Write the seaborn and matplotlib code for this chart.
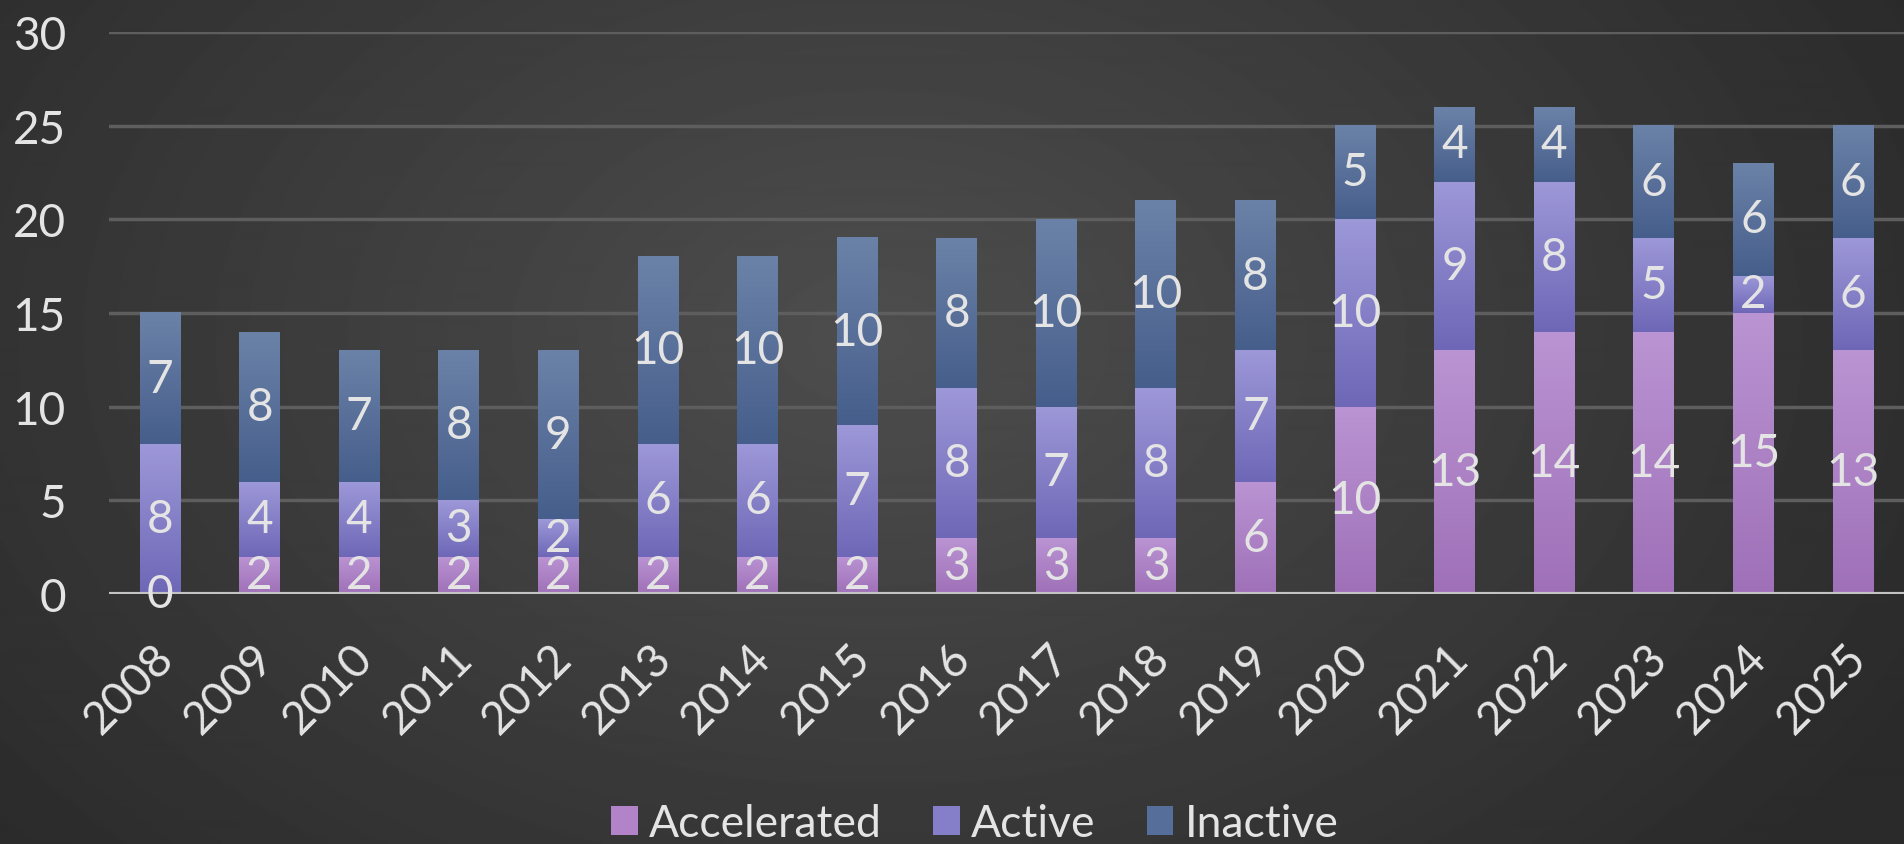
import numpy as np
import pandas as pd
import matplotlib
matplotlib.use("Agg")
import matplotlib.pyplot as plt
import seaborn as sns
from matplotlib.patches import Patch
from matplotlib.colors import LinearSegmentedColormap
from matplotlib.transforms import ScaledTranslation

# ---------------- data ----------------
years = [str(y) for y in range(2008, 2026)]
accelerated = [0, 2, 2, 2, 2, 2, 2, 2, 3, 3, 3, 6, 10, 13, 14, 14, 15, 13]
active = [8, 4, 4, 3, 2, 6, 6, 7, 8, 7, 8, 7, 10, 9, 8, 5, 2, 6]
inactive = [7, 8, 7, 8, 9, 10, 10, 10, 8, 10, 10, 8, 5, 4, 4, 6, 6, 6]
series_names = ["Accelerated", "Active", "Inactive"]
y_ticks = [0, 5, 10, 15, 20, 25, 30]

# ---------------- styling ----------------
grad_colors = {
    "Accelerated": ("#9f70b8", "#ba94d3"),
    "Active": ("#6e67b7", "#9d98d8"),
    "Inactive": ("#465e8b", "#6b82a8"),
}
legend_colors = {"Accelerated": "#b283c8", "Active": "#857fc9", "Inactive": "#566f9a"}
text_color = "#e4e4e4"

sns.set_theme(style="dark")
plt.rcParams['font.family'] = ['Lato', 'DejaVu Sans']

W, H = 1904, 845
fig = plt.figure(figsize=(W / 100, H / 100), dpi=100)

# background radial gradient
bg = fig.add_axes([0, 0, 1, 1], zorder=-10)
yy, xx = np.mgrid[0:H:2, 0:W:2]
cx, cy = 0.46 * W, 0.40 * H
r = np.sqrt(((xx - cx) / (0.62 * W)) ** 2 + ((yy - cy) / (0.95 * H)) ** 2)
v = 0.305 - 0.14 * np.clip(r, 0, 1)
bg.imshow(v, cmap="gray", vmin=0, vmax=1, aspect="auto", extent=(0, 1, 0, 1),
          interpolation="bilinear")
bg.axis("off")

ax = fig.add_axes([109 / W, 1 - 595 / H, 1 - 109 / W, (595 - 33) / H])
ax.set_facecolor("none")

df = pd.DataFrame({"Year": years, "Accelerated": accelerated,
                   "Active": active, "Inactive": inactive})

bottoms = np.zeros(len(years))
grad = np.linspace(0, 1, 256).reshape(-1, 1)
for name in series_names:
    n_before = len(ax.patches)
    sns.barplot(data=df, x="Year", y=name, bottom=bottoms.copy(), width=0.41,
                color=legend_colors[name], saturation=1, errorbar=None, ax=ax,
                zorder=2, linewidth=0)
    new = ax.patches[n_before:]
    cmap = LinearSegmentedColormap.from_list(name, grad_colors[name])
    for p, val in zip(new, df[name].values):
        x0, y0 = p.get_x(), p.get_y()
        w, h = p.get_width(), p.get_height()
        if h > 0:
            ax.imshow(grad, cmap=cmap, extent=(x0, x0 + w, y0, y0 + h),
                      origin="lower", aspect="auto", zorder=2.5,
                      interpolation="bilinear")
        ax.text(x0 + w / 2, y0 + h / 2, str(val), ha="center", va="center",
                fontsize=33, color=text_color, zorder=6, clip_on=False)
    bottoms += df[name].values

ax.set_xlim(-0.512, 17.512)
ax.set_ylim(0, 30)
ax.set_aspect("auto")

for s in ax.spines.values():
    s.set_visible(False)
ax.yaxis.grid(True, color="#5e5e5e", lw=2.5)
ax.xaxis.grid(False)
ax.set_axisbelow(True)
ax.axhline(0, color="#c4c4c4", lw=3, zorder=4)

ax.set_yticks(y_ticks)
ax.set_yticklabels([str(t) for t in y_ticks])
ax.tick_params(axis="y", length=0, pad=31, labelsize=33, labelcolor=text_color)
ax.set_xticks(range(len(years)))
ax.set_xticklabels(years, rotation=45, ha="right", va="top", rotation_mode="anchor")
ax.tick_params(axis="x", length=0, pad=30, labelsize=33, labelcolor=text_color)
offset = ScaledTranslation(-8 / 100, 0, fig.dpi_scale_trans)
for lbl in ax.get_xticklabels():
    lbl.set_transform(lbl.get_transform() + offset)
ax.set_xlabel("")
ax.set_ylabel("")

handles = [Patch(facecolor=legend_colors[n], edgecolor="none") for n in series_names]
fig.legend(handles, series_names, loc="lower center", bbox_to_anchor=(0.512, 0.0),
           ncol=3, frameon=False, fontsize=32, labelcolor=text_color,
           handlelength=0.6, handleheight=0.62, handletextpad=0.25,
           columnspacing=1.15, borderpad=0, borderaxespad=0)

fig.savefig("out.png", dpi=100)
